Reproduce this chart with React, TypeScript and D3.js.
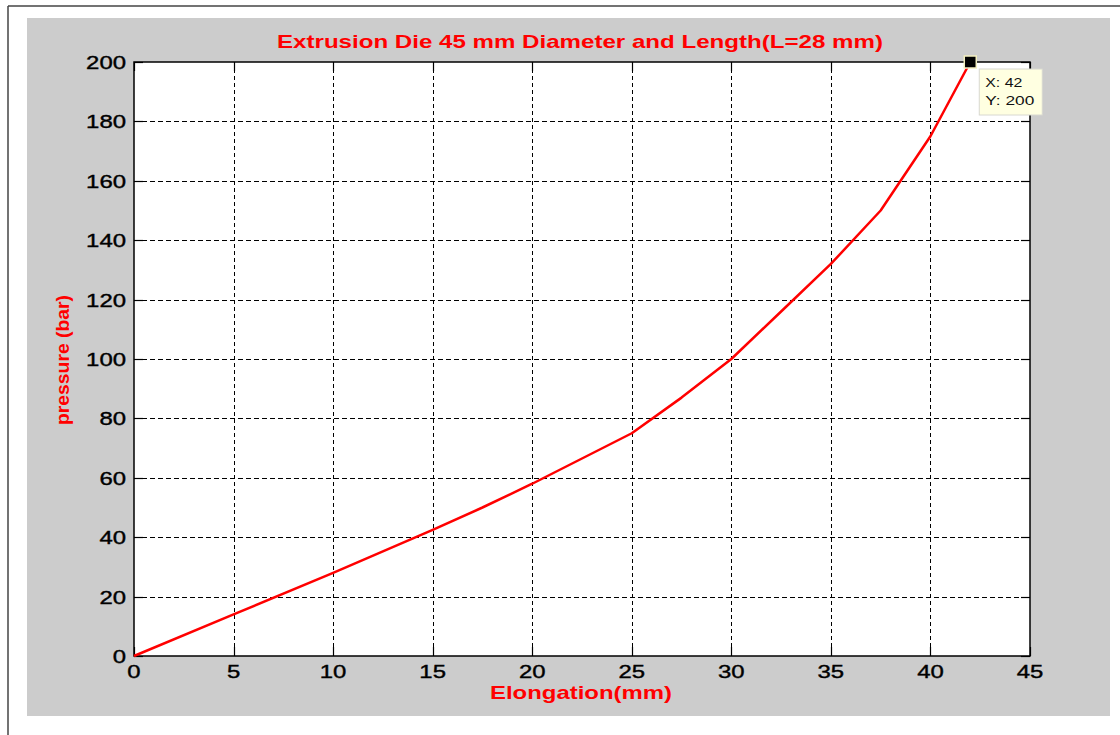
import React, { useEffect, useRef } from "react";
import * as d3 from "d3";

// values
const elongation = [ 0, 5, 10, 15, 17.5, 20, 25, 27.5, 30, 32.5, 35, 37.5, 40, 42 ];
const pressure = [ 0, 14, 28, 42.5, 50, 58, 75, 87, 100, 116, 132, 150, 175, 200 ];

const xTicks = [ 0, 5, 10, 15, 20, 25, 30, 35, 40, 45 ];
const yTicks = [ 0, 20, 40, 60, 80, 100, 120, 140, 160, 180, 200 ];

const titleText = "Extrusion Die 45 mm Diameter and Length(L=28 mm)";
const xLabel = "Elongation(mm)";
const yLabel = "pressure (bar)";

const tipX = 42;
const tipY = 200;

const FONT = "'Liberation Sans', Arial, Helvetica, sans-serif";

export default function App() {

	const ref = useRef<SVGSVGElement>( null );

	useEffect( () => {

		const svg = d3.select( ref.current );
		svg.selectAll( "*" ).remove();

		const W = 1120, H = 735;
		const plot = { left: 134, top: 62, right: 1030, bottom: 656 };

		// page frame + grey figure background
		svg.append( "rect" ).attr( "width", W ).attr( "height", H ).attr( "fill", "#fff" );
		svg.append( "line" ).attr( "x1", 8 ).attr( "y1", 6 ).attr( "x2", W ).attr( "y2", 6 )
			.attr( "stroke", "#444" ).attr( "stroke-width", 1.5 );
		svg.append( "line" ).attr( "x1", 8 ).attr( "y1", 6 ).attr( "x2", 8 ).attr( "y2", H )
			.attr( "stroke", "#444" ).attr( "stroke-width", 1.5 );
		svg.append( "rect" ).attr( "x", 27 ).attr( "y", 18 ).attr( "width", 1083 ).attr( "height", 698 )
			.attr( "fill", "#cccccc" );

		const x = d3.scaleLinear().domain( [ 0, 45 ] ).range( [ plot.left, plot.right ] );
		const y = d3.scaleLinear().domain( [ 0, 200 ] ).range( [ plot.bottom, plot.top ] );
		const px = ( v: number ) => Math.round( v ) + 0.5;

		svg.append( "rect" )
			.attr( "x", plot.left ).attr( "y", plot.top )
			.attr( "width", plot.right - plot.left ).attr( "height", plot.bottom - plot.top )
			.attr( "fill", "#fff" );

		// dashed grid
		const grid = svg.append( "g" ).attr( "stroke", "#000" ).attr( "stroke-width", 1 ).attr( "shape-rendering", "crispEdges" );
		grid.selectAll( ".vg" ).data( xTicks.slice( 1, -1 ) ).enter().append( "line" )
			.attr( "x1", d => px( x( d ) ) ).attr( "x2", d => px( x( d ) ) )
			.attr( "y1", plot.top ).attr( "y2", plot.bottom )
			.attr( "stroke-dasharray", "4,3" );
		grid.selectAll( ".hg" ).data( yTicks.slice( 1, -1 ) ).enter().append( "line" )
			.attr( "y1", d => px( y( d ) ) ).attr( "y2", d => px( y( d ) ) )
			.attr( "x1", plot.left ).attr( "x2", plot.right )
			.attr( "stroke-dasharray", "5,3" );

		// inward ticks on all four sides
		const tk = 9;
		const ticks = svg.append( "g" ).attr( "stroke", "#000" ).attr( "stroke-width", 1.2 );
		xTicks.forEach( d => {
			ticks.append( "line" ).attr( "x1", px( x( d ) ) ).attr( "x2", px( x( d ) ) ).attr( "y1", plot.bottom ).attr( "y2", plot.bottom - tk );
			ticks.append( "line" ).attr( "x1", px( x( d ) ) ).attr( "x2", px( x( d ) ) ).attr( "y1", plot.top ).attr( "y2", plot.top + tk );
		});
		yTicks.forEach( d => {
			ticks.append( "line" ).attr( "y1", px( y( d ) ) ).attr( "y2", px( y( d ) ) ).attr( "x1", plot.left ).attr( "x2", plot.left + tk );
			ticks.append( "line" ).attr( "y1", px( y( d ) ) ).attr( "y2", px( y( d ) ) ).attr( "x1", plot.right ).attr( "x2", plot.right - tk );
		});

		svg.append( "rect" )
			.attr( "x", plot.left ).attr( "y", plot.top )
			.attr( "width", plot.right - plot.left ).attr( "height", plot.bottom - plot.top )
			.attr( "fill", "none" ).attr( "stroke", "#000" ).attr( "stroke-width", 1.5 );

		// tick labels
		svg.selectAll( ".xt" ).data( xTicks ).enter().append( "text" )
			.attr( "x", d => x( d ) ).attr( "y", plot.bottom + 22 )
			.attr( "text-anchor", "middle" )
			.attr( "textLength", d => String( d ).length * 13.3 )
			.attr( "lengthAdjust", "spacingAndGlyphs" )
			.attr( "font-family", FONT ).attr( "font-size", 19 ).attr( "fill", "#000" )
			.attr( "stroke", "#000" ).attr( "stroke-width", 0.4 )
			.text( d => d );

		svg.selectAll( ".yt" ).data( yTicks ).enter().append( "text" )
			.attr( "x", plot.left - 8 ).attr( "y", d => y( d ) + 7 )
			.attr( "text-anchor", "end" )
			.attr( "textLength", d => String( d ).length * 13.3 )
			.attr( "lengthAdjust", "spacingAndGlyphs" )
			.attr( "font-family", FONT ).attr( "font-size", 19 ).attr( "fill", "#000" )
			.attr( "stroke", "#000" ).attr( "stroke-width", 0.4 )
			.text( d => d );

		// title and axis labels
		svg.append( "text" )
			.attr( "x", 580 ).attr( "y", 48 ).attr( "text-anchor", "middle" )
			.attr( "textLength", 606 ).attr( "lengthAdjust", "spacingAndGlyphs" )
			.attr( "font-family", FONT ).attr( "font-size", 19 ).attr( "font-weight", "bold" ).attr( "fill", "#ff0000" )
			.text( titleText );

		svg.append( "text" )
			.attr( "x", 581 ).attr( "y", 699 ).attr( "text-anchor", "middle" )
			.attr( "textLength", 182 ).attr( "lengthAdjust", "spacingAndGlyphs" )
			.attr( "font-family", FONT ).attr( "font-size", 19 ).attr( "font-weight", "bold" ).attr( "fill", "#ff0000" )
			.text( xLabel );

		svg.append( "text" )
			.attr( "transform", "translate(69,360) rotate(-90)" ).attr( "text-anchor", "middle" )
			.attr( "textLength", 130 ).attr( "lengthAdjust", "spacingAndGlyphs" )
			.attr( "font-family", FONT ).attr( "font-size", 19 ).attr( "font-weight", "bold" ).attr( "fill", "#ff0000" )
			.text( yLabel );

		// the curve
		const pts = elongation.map( ( e, i ) => [ e, pressure[ i ] ] as [ number, number ] );
		const line = d3.line<[ number, number ]>()
			.x( d => x( d[ 0 ] ) )
			.y( d => y( d[ 1 ] ) );

		svg.append( "path" )
			.datum( pts )
			.attr( "fill", "none" )
			.attr( "stroke", "#ff0000" )
			.attr( "stroke-width", 2.5 )
			.attr( "stroke-linejoin", "round" )
			.attr( "d", line );

		// data tip
		const mx = x( tipX ), my = y( tipY );
		svg.append( "rect" )
			.attr( "x", mx - 6 ).attr( "y", my - 6 ).attr( "width", 12 ).attr( "height", 12 )
			.attr( "fill", "#000" ).attr( "stroke", "#f3efc0" ).attr( "stroke-width", 1.5 );

		const tip = svg.append( "g" ).attr( "transform", "translate(" + ( mx + 9 ) + "," + ( my + 7 ) + ")" );
		tip.append( "rect" )
			.attr( "width", 63 ).attr( "height", 46 )
			.attr( "fill", "#ffffe1" ).attr( "stroke", "#d8d8d0" ).attr( "stroke-width", 1 );
		tip.append( "text" )
			.attr( "x", 6 ).attr( "y", 18 )
			.attr( "textLength", 37 ).attr( "lengthAdjust", "spacingAndGlyphs" )
			.attr( "font-family", FONT ).attr( "font-size", 13 ).attr( "fill", "#111" )
			.text( "X: " + tipX );
		tip.append( "text" )
			.attr( "x", 6 ).attr( "y", 36 )
			.attr( "textLength", 49 ).attr( "lengthAdjust", "spacingAndGlyphs" )
			.attr( "font-family", FONT ).attr( "font-size", 13 ).attr( "fill", "#111" )
			.text( "Y: " + tipY );

	}, [] );

	return (
		<svg
			ref={ ref }
			width={ 1120 }
			height={ 735 }
			style={ { position: "absolute", left: 0, top: 0, display: "block" } }
		/>
	);
}
